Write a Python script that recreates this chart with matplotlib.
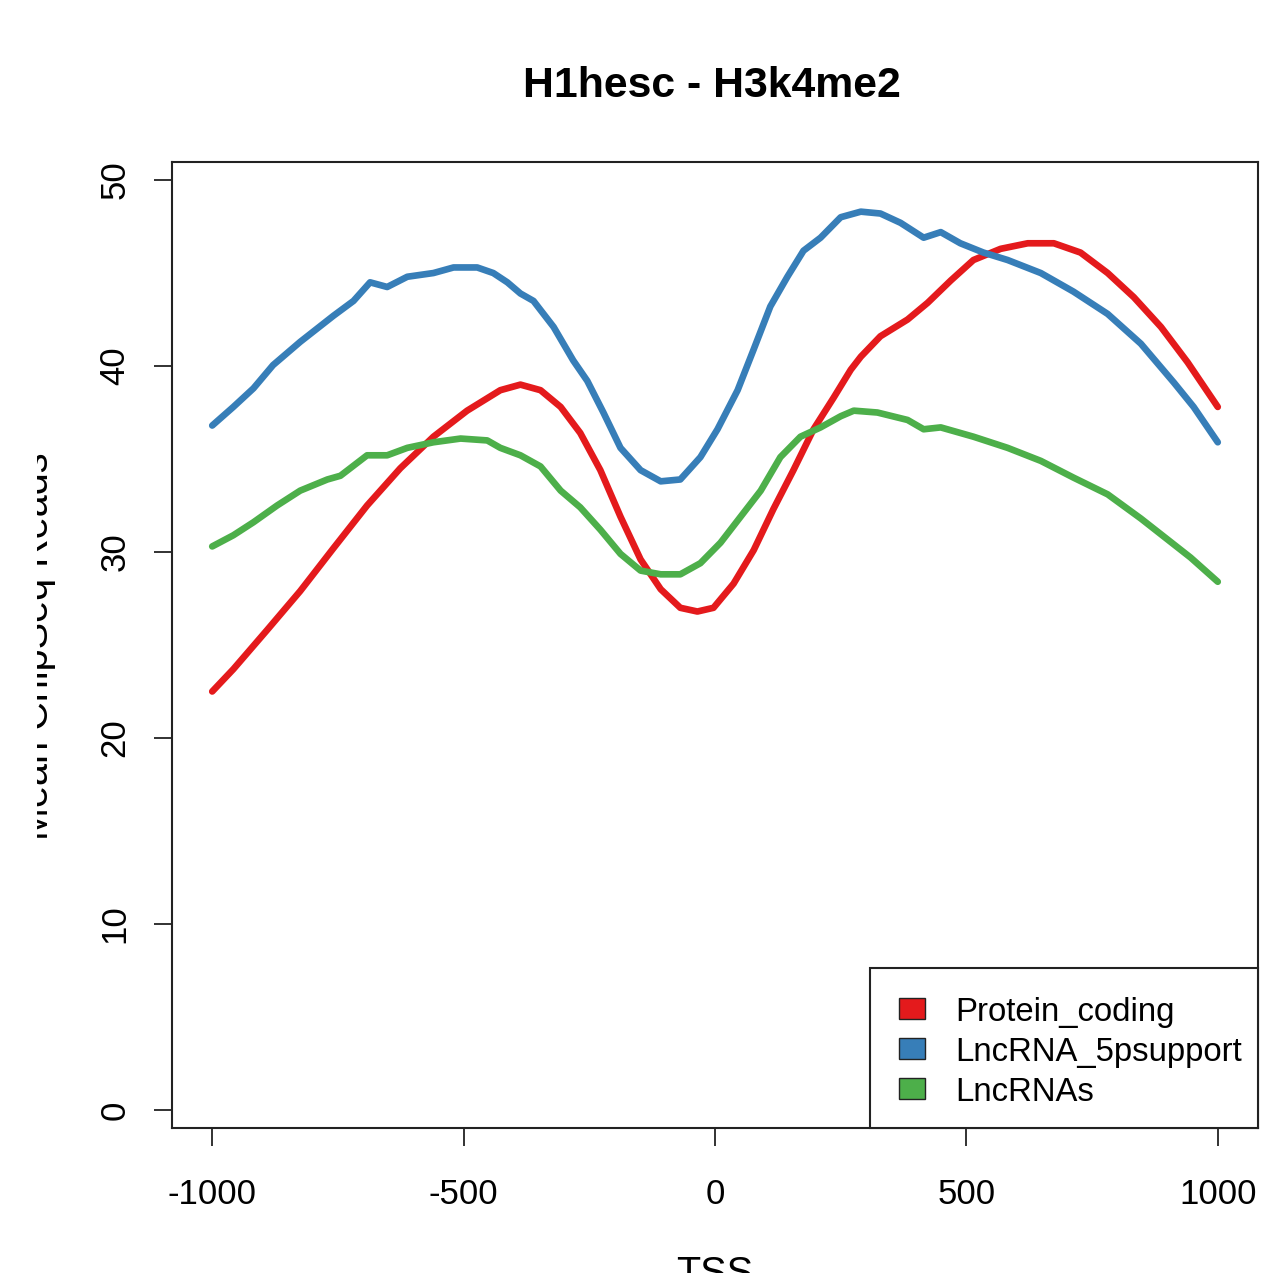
import matplotlib
matplotlib.use("Agg")
import matplotlib.pyplot as plt
from matplotlib.patches import Rectangle
from matplotlib.transforms import Bbox, TransformedBbox

plt.rcParams['font.family'] = ['Liberation Sans', 'DejaVu Sans']

title = "H1hesc - H3k4me2"
xlabel = "TSS"
ylabel = "Mean ChipSeq Reads"
series_names = ["Protein_coding", "LncRNA_5psupport", "LncRNAs"]
colors = ["#E41A1C", "#377EB8", "#4DAF4A"]

red_x = [-1000, -958, -891, -825, -759, -692, -626, -560, -493, -427, -387, -347, -307, -268, -228,
         -188, -148, -108, -69, -35, -3, 37, 77, 116, 156, 196, 236, 270, 290, 329, 383, 423, 469,
         514, 568, 622, 674, 727, 781, 833, 887, 940, 1000]
red_y = [22.5, 23.7, 25.8, 27.9, 30.2, 32.5, 34.5, 36.2, 37.6, 38.7, 39.0, 38.7, 37.8, 36.4, 34.4,
         31.9, 29.6, 28.0, 27.0, 26.8, 27.0, 28.3, 30.1, 32.3, 34.4, 36.6, 38.3, 39.8, 40.5, 41.6,
         42.5, 43.4, 44.6, 45.7, 46.3, 46.6, 46.6, 46.1, 45.0, 43.7, 42.1, 40.2, 37.8]

blue_x = [-1000, -958, -918, -879, -825, -759, -719, -686, -652, -612, -560, -520, -473, -441, -413,
          -387, -361, -321, -282, -254, -222, -188, -148, -108, -69, -29, 5, 45, 77, 110, 144, 176,
          210, 250, 290, 329, 369, 415, 449, 488, 534, 582, 648, 713, 781, 847, 913, 952, 1000]
blue_y = [36.8, 37.8, 38.8, 40.05, 41.3, 42.7, 43.5, 44.5, 44.25, 44.8, 45.0, 45.3, 45.3, 45.0, 44.5,
          43.9, 43.5, 42.1, 40.3, 39.2, 37.5, 35.6, 34.4, 33.8, 33.9, 35.1, 36.6, 38.7, 40.9, 43.2,
          44.8, 46.2, 46.9, 48.0, 48.3, 48.2, 47.7, 46.9, 47.2, 46.6, 46.1, 45.7, 45.0, 44.0, 42.8,
          41.2, 39.1, 37.8, 35.9]

green_x = [-1000, -958, -918, -871, -825, -771, -745, -692, -652, -612, -560, -506, -453, -427, -387,
           -347, -307, -268, -228, -188, -148, -108, -69, -29, 11, 51, 91, 130, 170, 210, 250, 276,
           323, 383, 415, 449, 514, 582, 648, 713, 781, 847, 913, 946, 1000]
green_y = [30.3, 30.9, 31.6, 32.5, 33.3, 33.9, 34.1, 35.2, 35.2, 35.6, 35.9, 36.1, 36.0, 35.6, 35.2,
           34.6, 33.3, 32.4, 31.2, 29.9, 29.0, 28.8, 28.8, 29.4, 30.5, 31.9, 33.3, 35.1, 36.2, 36.7,
           37.3, 37.6, 37.5, 37.1, 36.6, 36.7, 36.2, 35.6, 34.9, 34.0, 33.1, 31.8, 30.4, 29.7, 28.4]

x_ticks = [-1000, -500, 0, 500, 1000]
y_ticks = [0, 10, 20, 30, 40, 50]

W, H = 1280, 1273
fig = plt.figure(figsize=(W / 100, H / 100), dpi=100)
ax = fig.add_axes([172 / W, 1 - 1128 / H, (1258 - 172) / W, (1128 - 162) / H])

for xs, ys, c in zip([red_x, blue_x, green_x], [red_y, blue_y, green_y], colors):
    ax.plot(xs, ys, color=c, lw=4.8, solid_capstyle='round', solid_joinstyle='round')

ax.set_xlim(-1080, 1080)
ax.set_ylim(-0.97, 50.97)
ax.set_xticks(x_ticks)
ax.set_xticklabels([str(v) for v in x_ticks])
ax.set_yticks(y_ticks)
ax.set_yticklabels([str(v) for v in y_ticks], rotation=90, va='center')
ax.tick_params(axis='both', length=13, width=1.3, labelsize=25, color='#222222')
ax.tick_params(axis='x', pad=23)
ax.tick_params(axis='y', pad=16)
for s in ax.spines.values():
    s.set_linewidth(1.5)
    s.set_color('#222222')

fig.text(712 / W, 1 - 97 / H, title, ha='center', va='baseline', fontsize=30.8, fontweight='bold')
fig.text(715 / W, 1 - 1255 / H, xlabel, ha='center', va='top', fontsize=28.5)

yl = fig.text(48 / W, 1 - 646 / H, ylabel, rotation=90, rotation_mode='anchor',
              ha='center', va='baseline', fontsize=28.5)
yl.set_clip_box(TransformedBbox(Bbox([[37 / W, 0], [1, 1]]), fig.transFigure))
yl.set_clip_on(True)

# legend drawn in figure pixel coordinates (R-style legend box)
fig.patches.append(Rectangle((870 / W, 1 - 1128 / H), (1258 - 870) / W, (1128 - 968) / H,
                             transform=fig.transFigure, facecolor='white', edgecolor='#222222',
                             linewidth=1.5, zorder=5))
row_centers = [1008.5, 1048.5, 1088.5]
for name, c, yc in zip(series_names, colors, row_centers):
    fig.patches.append(Rectangle((899 / W, 1 - (yc + 10.5) / H), 26 / W, 21 / H,
                                 transform=fig.transFigure, facecolor=c, edgecolor='#222222',
                                 linewidth=1.0, zorder=6))
    fig.text(955 / W, 1 - (yc + 12.5) / H, name, ha='left', va='baseline', fontsize=23.7, zorder=6)

fig.savefig("out.png", dpi=100)
